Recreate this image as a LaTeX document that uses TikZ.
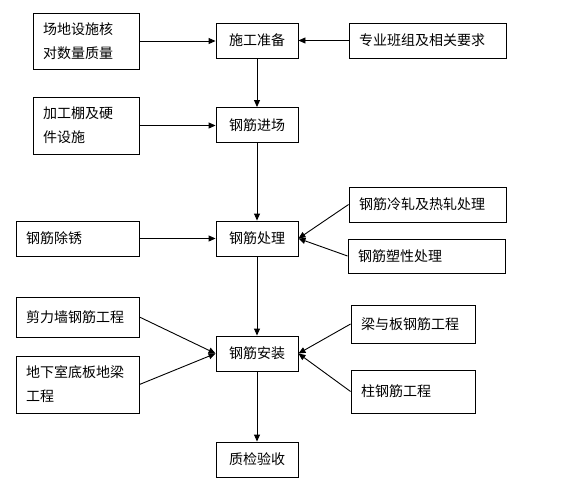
\documentclass[tikz,border=0pt]{standalone}
\usepackage{fontspec}
\newfontfamily\cjk{Noto Sans CJK SC}
\usetikzlibrary{arrows.meta}
\begin{document}
\begin{tikzpicture}[x=1pt,y=-1pt,
  box/.style={draw, line width=0.9pt, inner ysep=0pt, inner xsep=10pt, align=left,
    font=\cjk\fontsize{14}{24}\selectfont},
  mid/.style={box, align=center, inner xsep=4pt, text width=74pt, minimum width=82pt, minimum height=35pt},
  conn/.style={line width=0.9pt, -{Triangle[length=7pt,width=6pt]}}
]
\useasboundingbox (0,0) rectangle (572,485);
% centre column
\node[mid] (prep) at (257,40.5) {施工准备};
\node[mid] (enter) at (257,125) {钢筋进场};
\node[mid] (proc) at (257,238.5) {钢筋处理};
\node[mid] (inst) at (257,353.5) {钢筋安装};
\node[mid] (qc) at (257,459.5) {质检验收};
% left column
\node[box, text width=86pt, minimum height=56pt] (site) at (86,41) {场地设施核\\对数量质量};
\node[box, text width=86pt, minimum height=57pt] (shed) at (86,125.5) {加工棚及硬\\件设施};
\node[box, text width=103pt, minimum height=35pt] (rust) at (77.5,238.5) {钢筋除锈};
\node[box, text width=103pt, minimum height=40pt] (wall) at (77.5,317) {剪力墙钢筋工程};
\node[box, text width=103pt, minimum height=57pt] (base) at (77.5,384.5) {地下室底板地梁\\工程};
% right column
\node[box, text width=137pt, minimum height=35pt] (team) at (427.5,40.5) {专业班组及相关要求};
\node[box, text width=137pt, minimum height=35pt] (cold) at (427.5,204.5) {钢筋冷轧及热轧处理};
\node[box, text width=137pt, minimum height=34pt] (plast) at (426.5,256) {钢筋塑性处理};
\node[box, text width=104pt, minimum height=38pt] (beam) at (413,324) {梁与板钢筋工程};
\node[box, text width=104pt, minimum height=43pt] (col) at (413,391.5) {柱钢筋工程};
% connectors
\draw[conn] (site.east) -- (site.east -| prep.west);
\draw[conn] (team.west) -- (prep.east);
\draw[conn] (prep) -- (enter);
\draw[conn] (shed.east) -- (shed.east -| enter.west);
\draw[conn] (enter) -- (proc);
\draw[conn] (rust) -- (proc);
\draw[conn] (cold.west) -- (proc.east);
\draw[conn] (plast.west) -- (proc.east);
\draw[conn] (proc) -- (inst);
\draw[conn] (wall.east) -- (inst.west);
\draw[conn] (base.east) -- (inst.west);
\draw[conn] (beam.west) -- (inst.east);
\draw[conn] (col.west) -- (inst.east);
\draw[conn] (inst) -- (qc);
\end{tikzpicture}
\end{document}
